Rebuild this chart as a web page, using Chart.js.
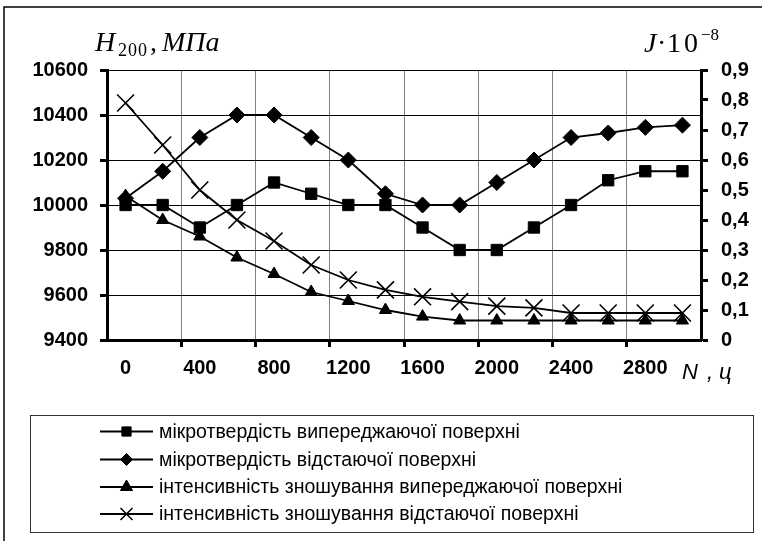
<!DOCTYPE html>
<html>
<head>
<meta charset="utf-8">
<script src="https://cdn.jsdelivr.net/npm/chart.js@4.4.0/dist/chart.umd.min.js"></script>
<style>
  html, body { margin: 0; padding: 0; background: #ffffff; }
  #wrap { width: 762px; height: 541px; position: relative; }
  canvas { display: block; }
</style>
</head>
<body>
<div id="wrap"><canvas id="chart" width="762" height="541"></canvas></div>
<script>
// Number of cycles N, ц
const cycles = ['0', '200', '400', '600', '800', '1000', '1200', '1400', '1600',
                '1800', '2000', '2200', '2400', '2600', '2800', '3000'];

// Microhardness H200, MPa (left axis)
const hardnessLeading = [10000, 10000, 9900, 10000, 10100, 10050, 10000, 10000,
                         9900, 9800, 9800, 9900, 10000, 10110, 10150, 10150];
const hardnessLagging = [10030, 10150, 10300, 10400, 10400, 10300, 10200, 10050,
                         10000, 10000, 10100, 10200, 10300, 10320, 10345, 10355];

// Wear intensity J·10^-8 (right axis)
const wearLeading = [0.48, 0.40, 0.345, 0.275, 0.22, 0.16, 0.13, 0.10,
                     0.078, 0.065, 0.065, 0.065, 0.065, 0.065, 0.065, 0.065];
const wearLagging = [0.79, 0.65, 0.50, 0.40, 0.33, 0.25, 0.20, 0.167,
                     0.144, 0.128, 0.113, 0.107, 0.09, 0.09, 0.09, 0.09];

const seriesNames = [
  'мікротвердість випереджаючої поверхні',
  'мікротвердість відстаючої поверхні',
  'інтенсивність зношування випереджаючої поверхні',
  'інтенсивність зношування відстаючої поверхні'
];

// marker shapes: size on the plot and (smaller) in the legend
const markers = [
  { pointStyle: 'rect', radius: 8, legendRadius: 6.5 },
  { pointStyle: 'rectRot', radius: 8, legendRadius: 6 },
  { pointStyle: 'triangle', radius: 7, legendRadius: 7 },
  { pointStyle: 'crossRot', radius: 12, legendRadius: 8.5 }
];

const SANS = '"Liberation Sans", Arial, sans-serif';
const SERIF = '"Liberation Serif", "Times New Roman", serif';

function seriesStyle(i) {
  return {
    label: seriesNames[i],
    borderColor: '#000',
    backgroundColor: '#000',
    borderWidth: 1.8,
    pointStyle: markers[i].pointStyle,
    pointRadius: markers[i].radius,
    pointHoverRadius: markers[i].radius,
    pointBackgroundColor: '#000',
    pointBorderColor: '#000',
    pointBorderWidth: i === 3 ? 1.6 : 1,
    tension: 0,
    fill: false,
    clip: false
  };
}

// Titles, frame and the boxed legend under the plot
const decorations = {
  id: 'decorations',
  afterDraw(chart) {
    const ctx = chart.ctx;
    ctx.save();
    ctx.fillStyle = '#000';
    ctx.strokeStyle = '#000';

    // outer frame (top and left edges)
    ctx.lineWidth = 1.5;
    ctx.beginPath();
    ctx.moveTo(4, 541);
    ctx.lineTo(4, 7);
    ctx.lineTo(762, 7);
    ctx.stroke();

    ctx.textBaseline = 'alphabetic';
    ctx.textAlign = 'left';

    // left axis title: H200, МПа
    ctx.font = 'italic 28px ' + SERIF;
    ctx.fillText('H', 95, 51);
    ctx.font = '18px ' + SERIF;
    ctx.fillText('2', 118, 56);
    ctx.fillText('0', 128, 56);
    ctx.fillText('0', 138, 56);
    ctx.font = '28px ' + SERIF;
    ctx.fillText(',', 150, 51);
    ctx.font = 'italic 28px ' + SERIF;
    ctx.fillText('МПа', 162, 51);

    // right axis title: J·10^-8
    ctx.font = 'italic 28px ' + SERIF;
    ctx.fillText('J', 644, 52);
    ctx.font = '28px ' + SERIF;
    ctx.fillText('·', 657, 52);
    ctx.fillText('1', 667, 52);
    ctx.fillText('0', 684, 52);
    ctx.font = '17px ' + SERIF;
    ctx.fillText('−8', 701, 40);

    // x axis title: N, ц
    ctx.font = 'italic 22px ' + SANS;
    ctx.fillText('N', 682, 379);
    ctx.fillText(',', 707, 379);
    ctx.fillText('ц', 719, 379);

    // legend box
    ctx.lineWidth = 1;
    ctx.strokeStyle = '#333';
    ctx.strokeRect(30.5, 415.5, 723, 117);

    const rowY = [431.5, 459.5, 487, 514];
    ctx.font = '19.5px ' + SANS;
    ctx.textBaseline = 'middle';
    for (let i = 0; i < 4; i++) {
      const y = rowY[i];
      ctx.strokeStyle = '#000';
      ctx.lineWidth = 1.8;
      ctx.beginPath();
      ctx.moveTo(100, y);
      ctx.lineTo(153, y);
      ctx.stroke();
      ctx.fillStyle = '#000';
      ctx.lineWidth = i === 3 ? 1.5 : 1;
      Chart.helpers.drawPoint(ctx, {
        pointStyle: markers[i].pointStyle,
        radius: markers[i].legendRadius,
        rotation: 0,
        borderWidth: ctx.lineWidth
      }, 126.5, y);
      ctx.fillStyle = '#000';
      ctx.fillText(seriesNames[i], 159, y + 1);
    }
    ctx.restore();
  }
};

const evenGrid = (ctx) =>
  (typeof ctx.index === 'number' && ctx.index > 0 && ctx.index % 2 === 0);

new Chart(document.getElementById('chart'), {
  type: 'line',
  data: {
    labels: cycles,
    datasets: [
      Object.assign(seriesStyle(0), { data: hardnessLeading, yAxisID: 'y', order: 4 }),
      Object.assign(seriesStyle(1), { data: hardnessLagging, yAxisID: 'y', order: 3 }),
      Object.assign(seriesStyle(2), { data: wearLeading, yAxisID: 'y1', order: 2 }),
      Object.assign(seriesStyle(3), { data: wearLagging, yAxisID: 'y1', order: 1 })
    ]
  },
  options: {
    responsive: false,
    animation: false,
    events: [],
    layout: { padding: { top: 70, left: 0, right: 0, bottom: 0 } },
    plugins: {
      legend: { display: false },
      tooltip: { enabled: false },
      title: { display: false }
    },
    scales: {
      x: {
        type: 'category',
        offset: true,
        grid: {
          offset: true,
          color: (ctx) => evenGrid(ctx) ? '#808080' : 'rgba(0,0,0,0)',
          lineWidth: 1,
          tickColor: (ctx) => evenGrid(ctx) ? '#000' : 'rgba(0,0,0,0)',
          tickWidth: 3,
          tickLength: 7
        },
        border: { color: '#000', width: 3 },
        ticks: {
          autoSkip: false,
          maxRotation: 0,
          minRotation: 0,
          padding: 9,
          color: '#000',
          font: { family: SANS, size: 20, weight: 'bold' },
          callback: function (value, index) {
            return index % 2 === 0 ? this.getLabelForValue(value) : '';
          }
        },
        afterFit(scale) { scale.height = 201; }
      },
      y: {
        position: 'left',
        min: 9400,
        max: 10600,
        grid: {
          color: '#000',
          lineWidth: 1,
          tickColor: '#000',
          tickWidth: 3,
          tickLength: 7
        },
        border: { color: '#000', width: 3 },
        ticks: {
          stepSize: 200,
          padding: 12,
          color: '#000',
          font: { family: SANS, size: 20, weight: 'bold' },
          callback: (v) => String(v)
        },
        afterFit(scale) { scale.width = 107; }
      },
      y1: {
        position: 'right',
        min: 0,
        max: 0.9,
        grid: {
          drawOnChartArea: false,
          tickColor: '#000',
          tickWidth: 3,
          tickLength: 7
        },
        border: { color: '#000', width: 3 },
        ticks: {
          stepSize: 0.1,
          padding: 13,
          color: '#000',
          font: { family: SANS, size: 20, weight: 'bold' },
          callback: (v) => (Math.abs(v) < 1e-9 ? '0' : v.toFixed(1).replace('.', ','))
        },
        afterFit(scale) { scale.width = 61; }
      }
    }
  },
  plugins: [decorations]
});
</script>
</body>
</html>
